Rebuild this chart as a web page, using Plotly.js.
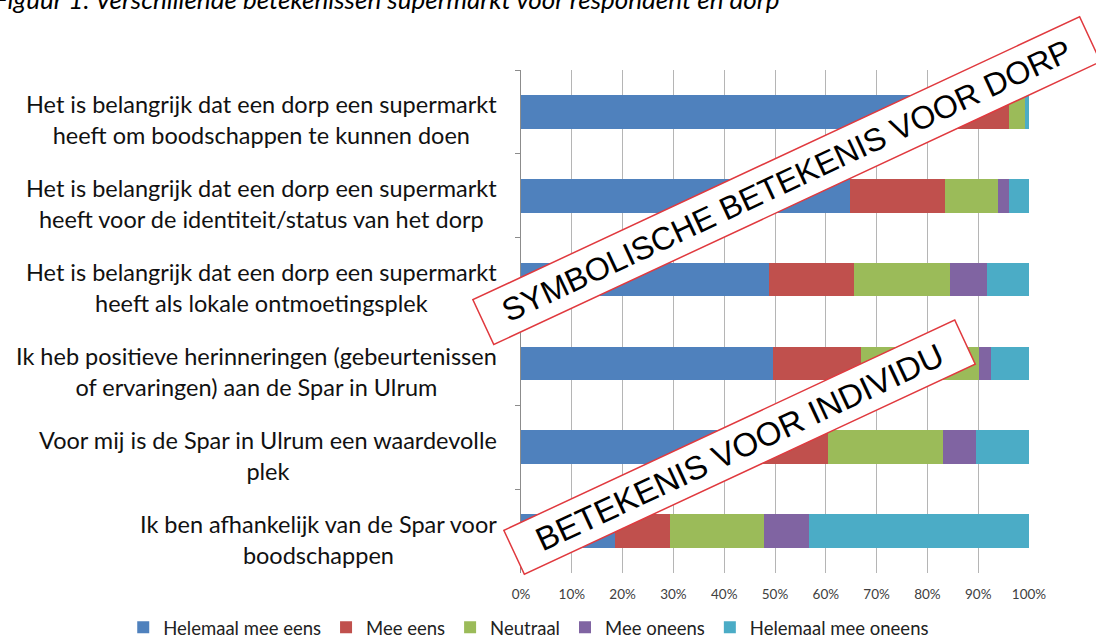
<!DOCTYPE html>
<html>
<head>
<meta charset="utf-8">
<script src="https://cdn.plot.ly/plotly-3.0.1.min.js"></script>
<style>html,body{margin:0;padding:0;background:#fff;}#chart{width:1096px;height:639px;}</style>
</head>
<body>
<div id="chart"></div>
<script>
// ---- data ----
const categories = [
  "Het is belangrijk dat een dorp een supermarkt<br>heeft om boodschappen te kunnen doen",
  "Het is belangrijk dat een dorp een supermarkt<br>heeft voor de identiteit/status van het dorp",
  "Het is belangrijk dat een dorp een supermarkt<br>heeft als lokale ontmoetingsplek",
  "Ik heb positieve herinneringen (gebeurtenissen<br>of ervaringen) aan de Spar in Ulrum",
  "Voor mij is de Spar in Ulrum een waardevolle<br>plek",
  "Ik ben afhankelijk van de Spar voor<br>boodschappen"
];
const seriesNames = ["Helemaal mee eens", "Mee eens", "Neutraal", "Mee oneens", "Helemaal mee oneens"];
const helemaalMeeEens   = [0.800, 0.647, 0.489, 0.496, 0.400, 0.186];
const meeEens           = [0.160, 0.188, 0.167, 0.174, 0.204, 0.108];
const neutraal          = [0.032, 0.104, 0.189, 0.232, 0.227, 0.185];
const meeOneens         = [0.000, 0.021, 0.073, 0.023, 0.064, 0.088];
const helemaalMeeOneens = [0.008, 0.040, 0.082, 0.075, 0.105, 0.433];
const seriesColors = ["#4F81BD", "#C0504D", "#9BBB59", "#8064A2", "#4BACC6"];
const xTickLabelsFormat = ".0%";
const titleText = "Figuur 1: Verschillende betekenissen supermarkt voor respondent en dorp";
const stampTexts = ["SYMBOLISCHE BETEKENIS VOOR DORP", "BETEKENIS VOOR INDIVIDU"];

const seriesValues = [helemaalMeeEens, meeEens, neutraal, meeOneens, helemaalMeeOneens];
const traces = seriesValues.map((vals, i) => ({
  type: "bar",
  orientation: "h",
  name: seriesNames[i],
  x: vals,
  y: categories,
  marker: {color: seriesColors[i], line: {width: 0}},
  hoverinfo: "skip"
}));

const baseFamily = "Lato, 'Open Sans', sans-serif";
const labelFont = {family: baseFamily, size: 23.5, color: "#111"};
const yLabelAnnots = categories.map(c => ({
  xref: "paper", yref: "y",
  x: -0.044, y: c,
  xanchor: "right", yanchor: "middle",
  yshift: -8,
  align: "center",
  text: c,
  showarrow: false,
  font: labelFont
}));

const titleAnnot = {
  xref: "paper", yref: "paper",
  x: -1.041, xanchor: "left",
  y: 1.142, yanchor: "middle",
  text: titleText,
  showarrow: false,
  font: {family: baseFamily, size: 26, style: "italic", color: "#000"}
};

const stampStyle = {
  xref: "paper", yref: "paper",
  xanchor: "center", yanchor: "middle",
  showarrow: false,
  textangle: -25,
  bgcolor: "#ffffff",
  bordercolor: "#E0393E",
  borderwidth: 1.5,
  borderpad: 0,
  align: "center",
  valign: "middle"
};
const stamps = [
  Object.assign({}, stampStyle, {
    text: stampTexts[0], x: 0.5236, y: 0.781, width: 668, height: 48,
    font: {family: "'Liberation Sans', Arial, sans-serif", size: 32, color: "#000"}
  }),
  Object.assign({}, stampStyle, {
    text: stampTexts[1], x: 0.4311, y: 0.2505, width: 496, height: 47,
    font: {family: "'Liberation Sans', Arial, sans-serif", size: 33, color: "#000"}
  })
];

const layout = {
  width: 1096, height: 639,
  margin: {l: 521, r: 67, t: 70, b: 66, pad: 0, autoexpand: false},
  paper_bgcolor: "#ffffff",
  plot_bgcolor: "#ffffff",
  barmode: "stack",
  bargap: 0.6,
  showlegend: true,
  xaxis: {
    range: [0, 1],
    dtick: 0.1,
    tick0: 0,
    tickformat: xTickLabelsFormat,
    showgrid: true,
    gridcolor: "#B5B5B5",
    gridwidth: 1,
    zeroline: false,
    showline: false,
    ticks: "",
    ticklabelstandoff: 11,
    tickfont: {family: baseFamily, size: 13.5, color: "#404040"},
    fixedrange: true
  },
  yaxis: {
    type: "category",
    autorange: "reversed",
    showticklabels: false,
    showgrid: false,
    zeroline: false,
    showline: true,
    linecolor: "#8C8C8C",
    linewidth: 1,
    ticks: "outside",
    tickson: "boundaries",
    ticklen: 5,
    tickcolor: "#8C8C8C",
    fixedrange: true
  },
  legend: {
    orientation: "h",
    x: -0.783, xanchor: "left",
    y: -0.109, yanchor: "middle",
    font: {family: baseFamily, size: 18.5, color: "#222"},
    traceorder: "normal",
    bgcolor: "rgba(0,0,0,0)"
  },
  annotations: yLabelAnnots.concat([titleAnnot]).concat(stamps)
};

Plotly.newPlot("chart", traces, layout, {displayModeBar: false, staticPlot: true});
</script>
</body>
</html>
